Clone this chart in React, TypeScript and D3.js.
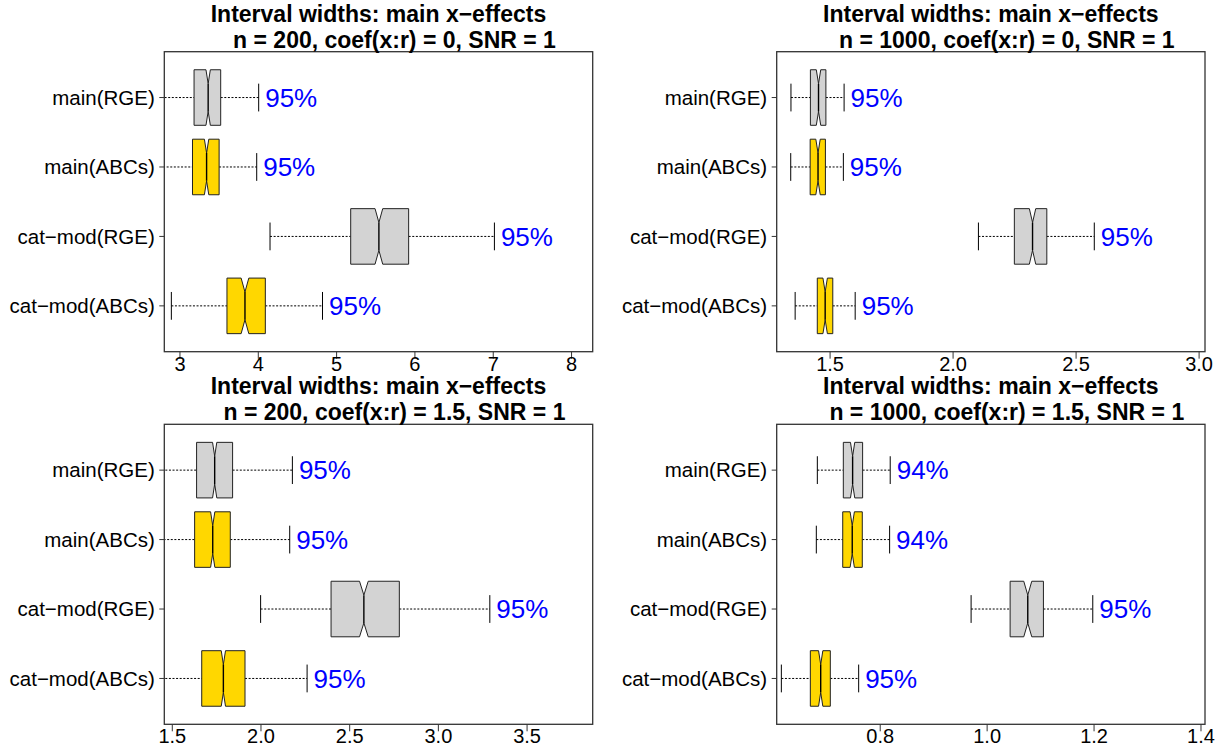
import React from "react";
import * as d3 from "d3";

// ---------- data ----------
const categories = ["main(RGE)", "main(ABCs)", "cat\u2212mod(RGE)", "cat\u2212mod(ABCs)"];
const boxFills = ["#D3D3D3", "#FFD700", "#D3D3D3", "#FFD700"];
const titleLine1 = "Interval widths: main x\u2212effects";
const subtitles = [
  "n = 200, coef(x:r) = 0, SNR = 1",
  "n = 1000, coef(x:r) = 0, SNR = 1",
  "n = 200, coef(x:r) = 1.5, SNR = 1",
  "n = 1000, coef(x:r) = 1.5, SNR = 1",
];

// panel 1: n = 200, coef = 0
const p1Lower = [2.62, 2.6, 4.15, 2.89];
const p1Q1 = [3.18, 3.16, 5.18, 3.6];
const p1Median = [3.36, 3.34, 5.54, 3.83];
const p1Q3 = [3.52, 3.5, 5.92, 4.09];
const p1Upper = [4.005, 3.98, 7.015, 4.82];
const p1Notch = [0.028, 0.028, 0.049, 0.049];
const p1Coverage = [95, 95, 95, 95];
const p1Ticks = [3, 4, 5, 6, 7, 8];
const p1TickLabels = ["3", "4", "5", "6", "7", "8"];
const p1Domain = [2.8, 8.27];

// panel 2: n = 1000, coef = 0
const p2Lower = [1.341, 1.34, 2.103, 1.358];
const p2Q1 = [1.42, 1.419, 2.249, 1.448];
const p2Median = [1.453, 1.451, 2.323, 1.48];
const p2Q3 = [1.483, 1.481, 2.381, 1.511];
const p2Upper = [1.557, 1.554, 2.574, 1.602];
const p2Notch = [0.009, 0.009, 0.013, 0.009];
const p2Coverage = [95, 95, 95, 95];
const p2Ticks = [1.5, 2.0, 2.5, 3.0];
const p2TickLabels = ["1.5", "2.0", "2.5", "3.0"];
const p2Domain = [1.283, 3.024];

// panel 3: n = 200, coef = 1.5
const p3Lower = [1.4, 1.39, 1.998, 1.42];
const p3Q1 = [1.637, 1.626, 2.395, 1.666];
const p3Median = [1.739, 1.728, 2.58, 1.788];
const p3Q3 = [1.84, 1.827, 2.78, 1.91];
const p3Upper = [2.177, 2.162, 3.29, 2.26];
const p3Notch = [0.012, 0.012, 0.0245, 0.012];
const p3Coverage = [95, 95, 95, 95];
const p3Ticks = [1.5, 2.0, 2.5, 3.0, 3.5];
const p3TickLabels = ["1.5", "2.0", "2.5", "3.0", "3.5"];
const p3Domain = [1.455, 3.87];

// panel 4: n = 1000, coef = 1.5
const p4Lower = [0.6824, 0.6805, 0.97, 0.6151];
const p4Q1 = [0.731, 0.7299, 1.043, 0.6693];
const p4Median = [0.7484, 0.7477, 1.076, 0.6887];
const p4Q3 = [0.7671, 0.7665, 1.1053, 0.7067];
const p4Upper = [0.8187, 0.8176, 1.1976, 0.7597];
const p4Notch = [0.004, 0.004, 0.0075, 0.004];
const p4Coverage = [94, 94, 95, 95];
const p4Ticks = [0.8, 1.0, 1.2, 1.4];
const p4TickLabels = ["0.8", "1.0", "1.2", "1.4"];
const p4Domain = [0.6064, 1.4075];

const panels = [
  { sub: subtitles[0], lower: p1Lower, q1: p1Q1, med: p1Median, q3: p1Q3, upper: p1Upper, notch: p1Notch, cov: p1Coverage, ticks: p1Ticks, tickLabels: p1TickLabels, domain: p1Domain },
  { sub: subtitles[1], lower: p2Lower, q1: p2Q1, med: p2Median, q3: p2Q3, upper: p2Upper, notch: p2Notch, cov: p2Coverage, ticks: p2Ticks, tickLabels: p2TickLabels, domain: p2Domain },
  { sub: subtitles[2], lower: p3Lower, q1: p3Q1, med: p3Median, q3: p3Q3, upper: p3Upper, notch: p3Notch, cov: p3Coverage, ticks: p3Ticks, tickLabels: p3TickLabels, domain: p3Domain },
  { sub: subtitles[3], lower: p4Lower, q1: p4Q1, med: p4Median, q3: p4Q3, upper: p4Upper, notch: p4Notch, cov: p4Coverage, ticks: p4Ticks, tickLabels: p4TickLabels, domain: p4Domain },
];

// ---------- layout ----------
const W = 1225;
const H = 752;
const frames = [
  { left: 164.3, right: 592.7, top: 51.7, bottom: 351.7 },
  { left: 776.7, right: 1205, top: 51.7, bottom: 351.7 },
  { left: 164.3, right: 592.7, top: 424.3, bottom: 724.3 },
  { left: 776.7, right: 1205, top: 424.3, bottom: 724.3 },
];
const FONT = "'Liberation Sans', Arial, Helvetica, sans-serif";

function Panel({ p, f, idx }: { p: any; f: any; idx: number }) {
  const x = d3.scaleLinear().domain(p.domain).range([f.left, f.right]);
  const n = categories.length;
  const y = d3.scaleLinear().domain([0.34, n + 0.66]).range([f.bottom, f.top]);
  const h = y(0) - y(0.4);
  const clipId = `clip-${idx}`;
  const cx = (f.left + f.right) / 2;

  return (
    <g>
      <defs>
        <clipPath id={clipId}>
          <rect x={f.left} y={f.top} width={f.right - f.left} height={f.bottom - f.top} />
        </clipPath>
      </defs>
      <g clipPath={`url(#${clipId})`}>
        {categories.map((c, i) => {
          const yc = y(n - i);
          const lo = x(p.lower[i]);
          const q1 = x(p.q1[i]);
          const md = x(p.med[i]);
          const q3 = x(p.q3[i]);
          const hi = x(p.upper[i]);
          const cLo = x(p.med[i] - p.notch[i]);
          const cHi = x(p.med[i] + p.notch[i]);
          const pts: [number, number][] = [
            [q1, yc - h], [cLo, yc - h], [md, yc - h / 2], [cHi, yc - h], [q3, yc - h],
            [q3, yc + h], [cHi, yc + h], [md, yc + h / 2], [cLo, yc + h], [q1, yc + h],
          ];
          const poly = d3.line()(pts) + "Z";
          return (
            <g key={c}>
              <line x1={lo} x2={q1} y1={yc} y2={yc} stroke="#000" strokeWidth={1} strokeDasharray="2,1.6" />
              <line x1={q3} x2={hi} y1={yc} y2={yc} stroke="#000" strokeWidth={1} strokeDasharray="2,1.6" />
              <line x1={lo} x2={lo} y1={yc - h / 2} y2={yc + h / 2} stroke="#000" strokeWidth={1} />
              <line x1={hi} x2={hi} y1={yc - h / 2} y2={yc + h / 2} stroke="#000" strokeWidth={1} />
              <path d={poly} fill={boxFills[i]} stroke="#222" strokeWidth={1} />
              <line x1={md} x2={md} y1={yc - h / 2} y2={yc + h / 2} stroke="#000" strokeWidth={1.4} />
            </g>
          );
        })}
      </g>
      {categories.map((c, i) => {
        const yc = y(n - i);
        const hi = x(p.upper[i]);
        return (
          <text key={"t" + c} x={hi + 6.5} y={yc} dy="0.36em" fill="#0000FF" fontSize={26} fontFamily={FONT}>
            {`${p.cov[i]}%`}
          </text>
        );
      })}
      <rect x={f.left} y={f.top} width={f.right - f.left} height={f.bottom - f.top} fill="none" stroke="#333" strokeWidth={1.3} />
      {/* x axis */}
      {p.ticks.map((t: number, k: number) => (
        <g key={"x" + k}>
          <line x1={x(t)} x2={x(t)} y1={f.bottom} y2={f.bottom + 7} stroke="#333" strokeWidth={1} />
          <text x={x(t)} y={f.bottom + 19} textAnchor="middle" fontSize={20} fontFamily={FONT} fill="#000">
            {p.tickLabels[k]}
          </text>
        </g>
      ))}
      {/* y axis */}
      {categories.map((c, i) => {
        const yc = y(n - i);
        return (
          <g key={"y" + c}>
            <line x1={f.left - 5} x2={f.left} y1={yc} y2={yc} stroke="#333" strokeWidth={1} />
            <text x={f.left - 9.5} y={yc} dy="0.35em" textAnchor="end" fontSize={20.5} fontFamily={FONT} fill="#000">
              {c}
            </text>
          </g>
        );
      })}
      {/* titles */}
      <text x={cx} y={f.top - 30} textAnchor="middle" fontSize={23} fontWeight="bold" fontFamily={FONT} fill="#000">
        {titleLine1}
      </text>
      <text x={cx} y={f.top - 4} textAnchor="middle" fontSize={23} fontWeight="bold" fontFamily={FONT} fill="#000" style={{ whiteSpace: "pre" }}>
        {"     " + p.sub}
      </text>
    </g>
  );
}

export default function App() {
  return (
    <svg width={W} height={H} viewBox={`0 0 ${W} ${H}`} style={{ position: "absolute", left: 0, top: 0, background: "#fff" }}>
      <rect x={0} y={0} width={W} height={H} fill="#fff" />
      {panels.map((p, i) => (
        <Panel key={i} p={p} f={frames[i]} idx={i} />
      ))}
    </svg>
  );
}
